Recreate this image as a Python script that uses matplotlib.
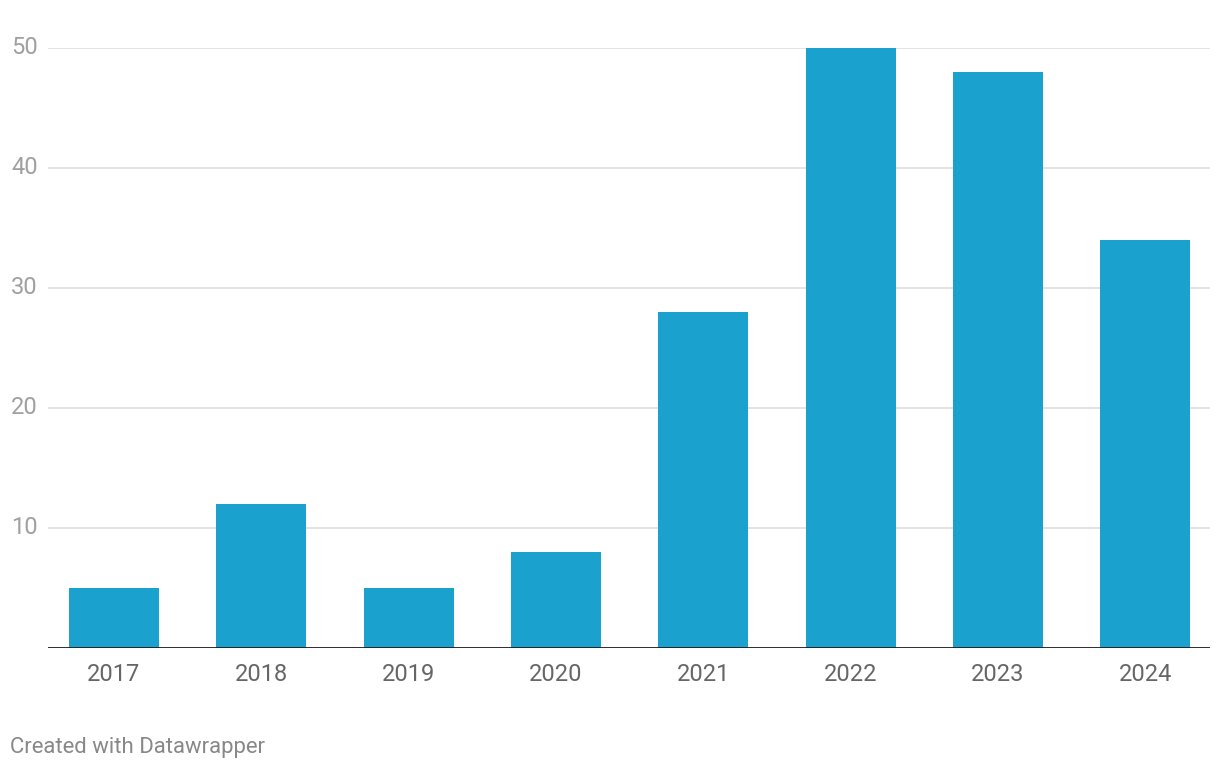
import matplotlib

matplotlib.use("Agg")
import matplotlib.pyplot as plt
import numpy as np

plt.rcParams["font.family"] = ["Roboto", "DejaVu Sans"]

# --- data ---
years = ["2017", "2018", "2019", "2020", "2021", "2022", "2023", "2024"]
counts = [5, 12, 5, 8, 28, 50, 48, 34]
yticks = [10, 20, 30, 40, 50]

W, H = 1220, 770
fig = plt.figure(figsize=(W / 100, H / 100), dpi=100)
# axes spans gridline extent: x 48..1210 px, y 48..648 px
ax = fig.add_axes([48 / W, (H - 648) / H, (1210 - 48) / W, 600 / H])

x = np.arange(len(years))
ax.bar(x, counts, width=0.611, color="#1aa1cd", zorder=2)

ax.set_xlim(-0.448, 7.44)
ax.set_ylim(0, 50)

for y in yticks:
    ax.axhline(y, color="#e1e1e1", lw=1.3, zorder=1)
    ax.text(38 / W, (H - 648 + y * 12) / H, str(y), transform=fig.transFigure,
            ha="right", va="center", fontsize=17, color="#a0a0a0")
ax.axhline(0, color="#1a1a1a", lw=2, zorder=3)

for s in ax.spines.values():
    s.set_visible(False)
ax.set_yticks([])
ax.set_xticks(x)
ax.set_xticklabels(years, fontsize=17, color="#666666")
ax.tick_params(axis="x", length=0, pad=11)

fig.text(10 / W, (H - 748) / H, "Created with Datawrapper",
         ha="left", va="center", fontsize=15.9, color="#888888")

fig.savefig("out.png", dpi=100)
